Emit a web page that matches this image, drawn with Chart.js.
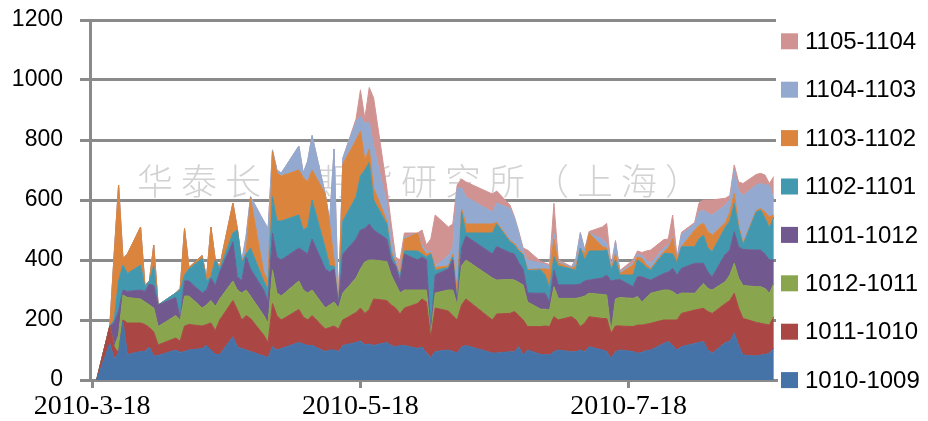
<!DOCTYPE html>
<html>
<head>
<meta charset="utf-8">
<script src="https://cdn.jsdelivr.net/npm/chart.js@4.4.0/dist/chart.umd.min.js"></script>
<style>
  html, body { margin: 0; padding: 0; background: #fff; }
  canvas { display: block; }
</style>
</head>
<body>
<canvas id="spreadChart" width="928" height="421"></canvas>
<script>
// trading days
const dates = [
  '2010-03-19','2010-03-22','2010-03-23','2010-03-24','2010-03-25','2010-03-26','2010-03-29','2010-03-30','2010-03-31','2010-04-01',
  '2010-04-02','2010-04-06','2010-04-07','2010-04-08','2010-04-09','2010-04-12','2010-04-13','2010-04-14','2010-04-15','2010-04-16',
  '2010-04-19','2010-04-20','2010-04-21','2010-04-22','2010-04-23','2010-04-26','2010-04-27','2010-04-28','2010-04-29','2010-04-30',
  '2010-05-04','2010-05-05','2010-05-06','2010-05-07','2010-05-10','2010-05-11','2010-05-12','2010-05-13','2010-05-14','2010-05-17',
  '2010-05-18','2010-05-19','2010-05-20','2010-05-21','2010-05-24','2010-05-25','2010-05-26','2010-05-27','2010-05-28','2010-05-31',
  '2010-06-01','2010-06-02','2010-06-03','2010-06-04','2010-06-07','2010-06-08','2010-06-09','2010-06-10','2010-06-11','2010-06-17',
  '2010-06-18','2010-06-21','2010-06-22','2010-06-23','2010-06-24','2010-06-25','2010-06-28','2010-06-29','2010-06-30','2010-07-01',
  '2010-07-02','2010-07-05','2010-07-06','2010-07-07','2010-07-08','2010-07-09','2010-07-12','2010-07-13','2010-07-14','2010-07-15',
  '2010-07-16','2010-07-19','2010-07-20','2010-07-21','2010-07-22','2010-07-23','2010-07-26','2010-07-27','2010-07-28','2010-07-29',
  '2010-07-30','2010-08-02','2010-08-03','2010-08-04','2010-08-05','2010-08-06','2010-08-09','2010-08-10','2010-08-11','2010-08-12',
  '2010-08-13','2010-08-16','2010-08-17','2010-08-18','2010-08-19','2010-08-20'
];

const seriesNames = ['1010-1009', '1011-1010', '1012-1011', '1101-1012', '1102-1101', '1103-1102', '1104-1103', '1105-1104'];

const s1010_1009 = [0,122,72,90,195,85,95,95,110,80, 82,100,92,95,100,105,115,100,85,85, 144,110,105,100,95,80,75,111,100,105,
  125,120,115,115,95,100,100,95,115,125, 130,117,120,115,125,115,110,115,115,105, 110,90,75,95,100,95,90,110,115,90,
  90,94,94,111,83,100,85,85,83,94, 100,94,94,100,94,111,100,95,72,94, 100,95,89,92,98,100,122,128,115,100,
  111,122,125,128,100,89,125,128,156,115, 83,80,83,85,89,106];
const s1011_1010 = [0,58,38,0,5,105,95,90,65,80, 35,40,38,85,85,75,70,90,80,115, 121,125,95,115,110,70,50,144,115,95,
  110,90,85,100,75,75,80,75,85,100, 110,105,115,155,140,135,130,105,125,150, 160,170,65,145,130,120,110,140,155,110,
  130,128,134,104,117,78,93,95,95,117, 100,117,106,78,96,100,105,110,84,86, 80,83,94,91,88,89,78,72,85,100,
  111,111,111,111,128,133,130,137,133,125, 122,112,106,101,94,105];
const s1012_1011 = [0,0,0,60,83,85,80,75,75,80, 61,75,70,100,95,60,65,75,80,70, 65,65,90,85,75,65,65,112,75,80,
  95,90,90,85,70,75,80,70,90,115, 130,172,165,130,130,100,80,70,60,45, 30,40,10,50,70,85,50,130,130,140,
  113,113,105,110,117,82,58,56,55,100, 72,61,72,97,90,78,80,78,4,90, 95,94,95,77,89,100,100,100,95,83,
  68,56,69,83,77,78,73,85,100,100, 110,119,122,119,106,111];
const s1101_1012 = [0,0,80,80,17,20,30,35,70,75, 72,60,5,50,50,50,50,75,70,90, 130,45,40,110,90,85,70,122,120,120,
  110,130,130,170,130,110,110,10,130,130, 130,111,120,100,75,50,60,40,120,100, 110,100,10,60,70,100,0,60,80,80,
  112,89,87,65,53,30,53,53,27,56, 45,45,45,45,50,44,55,67,170,63, 60,39,66,84,63,44,55,60,77,67,
  82,100,84,67,55,44,92,83,105,104, 120,122,122,115,111,78];
const s1102_1101 = [0,0,10,100,83,60,83,15,10,65, 0,15,95,20,40,115,30,5,85,10, 30,155,60,10,70,30,40,122,120,130,
  110,70,90,130,70,20,10,0,110,140, 180,195,205,100,50,20,5,15,10,30, 10,10,260,15,5,10,10,120,10,70,
  75,37,30,40,47,75,78,61,45,44, 63,53,48,119,70,97,90,83,37,67, 15,39,56,46,37,34,67,62,48,39,
  72,55,81,94,80,84,90,97,95,62, 15,127,134,120,106,144];
const s1103_1102 = [0,0,220,320,22,65,127,5,0,70, 0,0,5,155,5,10,10,165,0,10, 100,5,5,5,165,30,30,150,160,150,
  150,175,150,100,180,140,20,0,190,190, 150,33,45,40,10,10,5,5,40,60, 20,10,5,10,5,10,40,10,30,30,
  5,4,5,5,3,3,3,20,62,59, 10,2,15,1,20,59,15,7,3,20, 5,33,11,15,10,5,6,18,52,11,
  0,56,45,39,55,55,15,30,33,9, 5,5,5,20,38,6];
const s1104_1103 = [0,0,0,0,0,0,0,0,0,0, 0,0,0,0,0,0,0,0,0,0, 0,0,0,55,6,170,175,6,10,10,
  80,15,70,115,0,10,370,5,20,60, 50,122,90,140,60,40,10,2,5,0, 10,10,5,5,35,20,340,70,90,40,
  65,107,85,55,10,32,19,15,13,20, 5,3,20,49,10,1,25,15,5,41, 5,6,9,10,15,18,12,10,3,5,
  41,20,45,45,60,67,58,40,78,115, 160,85,83,90,106,50];
const s1105_1104 = [0,0,0,0,0,0,0,0,0,0, 0,0,0,0,0,0,0,0,0,0, 0,0,0,0,0,0,0,0,0,0,
  0,0,0,0,0,0,0,0,0,10, 87,17,115,160,50,50,10,48,15,0, 50,20,40,170,95,80,10,30,50,60,
  40,11,5,5,10,33,6,5,5,99, 5,3,5,3,5,5,40,67,5,4, 5,11,10,10,30,43,28,20,75,6,
  7,5,30,33,45,50,23,15,17,30, 40,35,34,33,5,78];

const xTickDates = ['2010-03-18', '2010-05-18', '2010-07-18'];
const watermark = '华泰长城期货研究所（上海）';

const colors = ['#4572A7', '#AA4643', '#89A54E', '#71588F', '#4198AF', '#DB843D', '#93A9CF', '#D19392'];
const seriesValues = [s1010_1009, s1011_1010, s1012_1011, s1101_1012, s1102_1101, s1103_1102, s1104_1103, s1105_1104];

// days counted from 2010-03-18
const dayZero = Date.UTC(2010, 2, 18);
function dayIndex(s) {
  const [y, m, d] = s.split('-').map(Number);
  return (Date.UTC(y, m - 1, d) - dayZero) / 864e5;
}
function dayLabel(v) {
  const t = new Date(dayZero + v * 864e5);
  return t.getUTCFullYear() + '-' + (t.getUTCMonth() + 1) + '-' + t.getUTCDate();
}

const gridGray = '#8a8a8a';

const watermarkPlugin = {
  id: 'watermark',
  beforeDatasetsDraw(chart) {
    const ctx = chart.ctx;
    ctx.save();
    ctx.font = '300 36px "Noto Sans CJK SC"';
    ctx.fillStyle = '#d2d2d2';
    ctx.textBaseline = 'middle';
    ctx.letterSpacing = '8px';
    ctx.fillText(watermark, chart.chartArea.left + 47, 181);
    ctx.restore();
  }
};

// legend on the right, last series on top
const sideLegend = {
  id: 'sideLegend',
  afterDraw(chart) {
    const ctx = chart.ctx;
    const x = chart.chartArea.right + 5;
    ctx.save();
    ctx.font = '24px "Liberation Sans", Arial, sans-serif';
    ctx.textBaseline = 'middle';
    const n = seriesNames.length;
    for (let k = 0; k < n; k++) {
      const i = n - 1 - k;
      const cy = 41.3 + k * 48.4;
      ctx.fillStyle = colors[i];
      ctx.fillRect(x, cy - 8, 17, 16);
      ctx.fillStyle = '#000';
      ctx.fillText(seriesNames[i], x + 24, cy + 1);
    }
    ctx.restore();
  }
};

const datasets = seriesValues.map((vals, i) => ({
  label: seriesNames[i],
  data: vals.map((v, j) => ({ x: dayIndex(dates[j]), y: v })),
  backgroundColor: colors[i],
  borderColor: colors[i],
  borderWidth: 1,
  pointRadius: 0,
  tension: 0,
  fill: i === 0 ? 'origin' : '-1'
}));

new Chart(document.getElementById('spreadChart'), {
  type: 'line',
  data: { datasets },
  options: {
    responsive: false,
    animation: false,
    layout: { padding: { top: 20, right: 152, bottom: 0, left: 0 } },
    plugins: {
      legend: { display: false },
      tooltip: { enabled: false }
    },
    scales: {
      x: {
        type: 'linear',
        min: -0.5,
        max: 155.5,
        afterBuildTicks: s => { s.ticks = xTickDates.map(d => ({ value: dayIndex(d) })); },
        afterFit: s => { s.height = 41; },
        ticks: {
          callback: v => dayLabel(v),
          autoSkip: false,
          maxRotation: 0,
          color: '#000',
          padding: 2,
          font: { family: '"Liberation Serif", serif', size: 28 }
        },
        grid: { drawOnChartArea: false, drawTicks: true, tickLength: 8, color: gridGray, lineWidth: 3 },
        border: { display: true, color: gridGray, width: 3 }
      },
      y: {
        stacked: true,
        min: 0,
        max: 1200,
        afterFit: s => { s.width = 90; s.paddingTop = 0; s.paddingBottom = 0; },
        ticks: {
          stepSize: 200,
          callback: v => String(v),
          color: '#000',
          padding: 17,
          font: { family: '"Liberation Sans", Arial, sans-serif', size: 23 }
        },
        grid: { color: gridGray, lineWidth: 3, drawTicks: true, tickLength: 10 },
        border: { display: true, color: gridGray, width: 3 }
      }
    }
  },
  plugins: [watermarkPlugin, sideLegend]
});
</script>
</body>
</html>
